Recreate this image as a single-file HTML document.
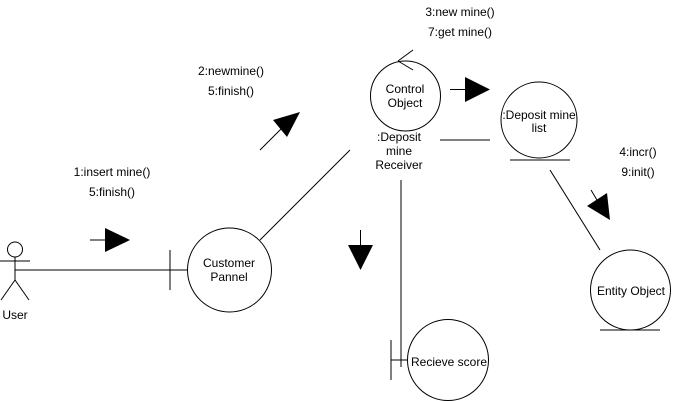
<!DOCTYPE html>
<html><head><meta charset="utf-8"><style>
html,body{margin:0;padding:0;background:#fff;}
svg{display:block;}
text{font-family:"Liberation Sans",Arial,sans-serif;font-size:12px;fill:#000;text-anchor:middle;dominant-baseline:central;}
</style></head><body>
<svg width="681" height="401" viewBox="0 0 681 401" xmlns="http://www.w3.org/2000/svg">
<g stroke="#000" stroke-width="1" fill="none">
<!-- actor -->
<circle cx="15" cy="249.5" r="7.5" fill="#fff"/>
<line x1="15" y1="257" x2="15" y2="280"/>
<line x1="0" y1="261" x2="30" y2="261"/>
<line x1="15" y1="280" x2="1" y2="300"/>
<line x1="15" y1="280" x2="29" y2="300"/>
<!-- user to customer -->
<line x1="15" y1="270" x2="187" y2="270"/>
<line x1="170" y1="250" x2="170" y2="290"/>
<circle cx="229.5" cy="270" r="42" fill="#fff"/>
<!-- arrow 1 -->
<line x1="90" y1="240" x2="105" y2="240"/>
<!-- customer to receiver -->
<line x1="260" y1="240" x2="350" y2="150"/>
<line x1="260" y1="150" x2="287" y2="123"/>
<!-- control object -->
<circle cx="405.5" cy="96" r="35" fill="#fff"/>
<line x1="398" y1="61" x2="413" y2="50"/>
<line x1="398" y1="61" x2="413" y2="70"/>
<line x1="450" y1="89.5" x2="465" y2="89.5"/>
<line x1="440" y1="140" x2="490" y2="140"/>
<!-- deposit mine list -->
<circle cx="539" cy="120" r="38" fill="#fff"/>
<line x1="510" y1="160" x2="570" y2="160"/>
<!-- to entity -->
<line x1="550" y1="170" x2="600" y2="250"/>
<line x1="591" y1="190" x2="597" y2="200"/>
<circle cx="630.5" cy="290" r="40" fill="#fff"/>
<line x1="600" y1="330" x2="660" y2="330"/>
<!-- down -->
<line x1="360.5" y1="230" x2="360.5" y2="246"/>
<line x1="401" y1="180" x2="401" y2="367"/>
<line x1="391" y1="340" x2="391" y2="380"/>
<line x1="391" y1="360" x2="408" y2="360"/>
<circle cx="448" cy="360" r="40.5" fill="#fff"/>
</g>
<g fill="#000" stroke="none">
<polygon points="105,228 130,240 105,252"/>
<polygon points="273,120 300,112 287,137"/>
<polygon points="465,77 490,89.5 465,102"/>
<polygon points="348,245 373,245 360.5,270"/>
<polygon points="587,206 607,193 610,220"/>
</g>
<text x="15" y="315">User</text>
<text x="229" y="263">Customer</text>
<text x="229" y="277">Pannel</text>
<text x="112" y="172">1:insert mine()</text>
<text x="112" y="192">5:finish()</text>
<text x="231" y="71">2:newmine()</text>
<text x="231" y="91">5:finish()</text>
<text x="460" y="12">3:new mine()</text>
<text x="460" y="32">7:get mine()</text>
<text x="405" y="89">Control</text>
<text x="405" y="103">Object</text>
<text x="399" y="137">:Deposit</text>
<text x="399" y="151">mine</text>
<text x="399" y="165">Receiver</text>
<text x="539" y="115">:Deposit mine</text>
<text x="539" y="128">list</text>
<text x="638" y="152">4:incr()</text>
<text x="638" y="172">9:init()</text>
<text x="631" y="291">Entity Object</text>
<text x="449" y="362">Recieve score</text>
</svg>
</body></html>
